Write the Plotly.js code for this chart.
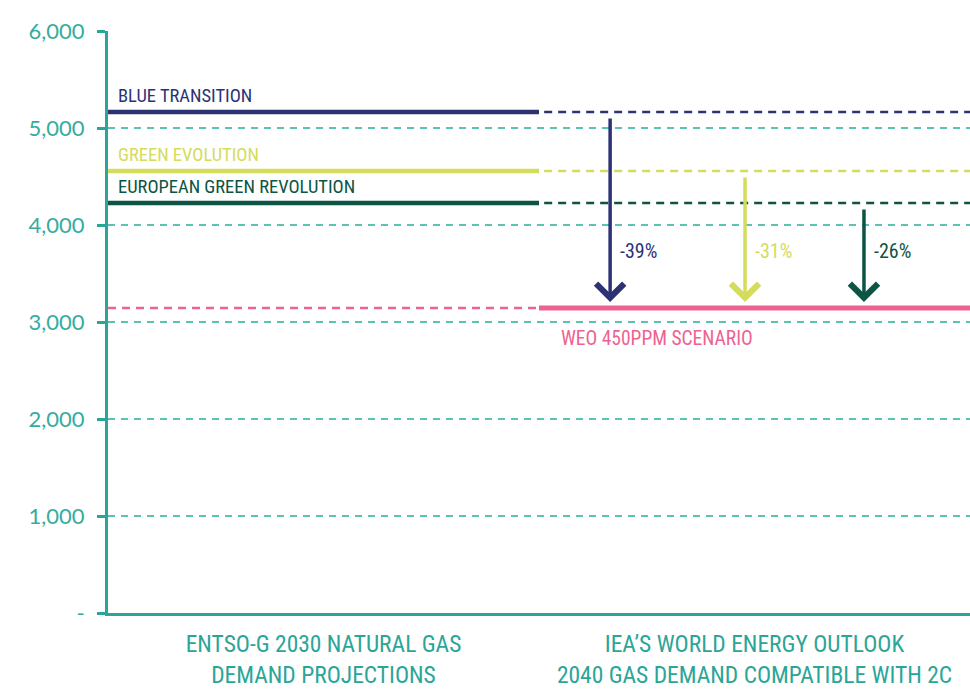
<!DOCTYPE html>
<html>
<head>
<meta charset="utf-8">
<script src="https://cdn.plot.ly/plotly-3.0.1.min.js"></script>
<style>html,body{margin:0;padding:0;background:#fff;}#chart{width:970px;height:691px;}</style>
</head>
<body>
<div id="chart"></div>
<script>
// ---- data ----
const scenarios = ["BLUE TRANSITION", "GREEN EVOLUTION", "EUROPEAN GREEN REVOLUTION"];
const demand2030 = [5165, 4557, 4227];
const weoLabel = "WEO 450PPM SCENARIO";
const weoDemand = 3144;
const reductionLabels = ["-39%", "-31%", "-26%"];
const categories = ["ENTSO-G 2030 NATURAL GAS<br>DEMAND PROJECTIONS", "IEA\u2019S WORLD ENERGY OUTLOOK<br>2040 GAS DEMAND COMPATIBLE WITH 2C"];
const yTickVals = [0, 1000, 2000, 3000, 4000, 5000, 6000];
const yTickText = ["-", "1,000", "2,000", "3,000", "4,000", "5,000", "6,000"];

// ---- styles / positions ----
const colors = ["#2c3375", "#d4dc5c", "#0c5443"];
const pink = "#ee6292";
const teal = "#2ba597";
const gridTeal = "#5cc2b4";
const arrowX = [1.165, 1.478, 1.754];
const pctLabelY = 3730;
const narrow = "'Liberation Sans Narrow', 'Roboto Condensed', 'DejaVu Sans Condensed', sans-serif";

const traces = [];
scenarios.forEach((s, i) => {
  traces.push({x: [0, 1], y: [demand2030[i], demand2030[i]], mode: "lines",
    line: {color: colors[i], width: 4.5}, hoverinfo: "skip", showlegend: false});
  traces.push({x: [1.012, 2], y: [demand2030[i], demand2030[i]], mode: "lines",
    line: {color: colors[i], width: 2.5, dash: "8px,6px"}, hoverinfo: "skip", showlegend: false});
});
traces.push({x: [0, 0.995], y: [weoDemand, weoDemand], mode: "lines",
  line: {color: pink, width: 2.5, dash: "8px,6px"}, hoverinfo: "skip", showlegend: false});
traces.push({x: [1, 2], y: [weoDemand, weoDemand], mode: "lines",
  line: {color: pink, width: 5}, hoverinfo: "skip", showlegend: false});

const annotations = [];
scenarios.forEach((s, i) => {
  annotations.push({x: 0, y: demand2030[i], xref: "x", yref: "y", text: s, showarrow: false,
    xanchor: "left", yanchor: "bottom", xshift: 8, yshift: 3,
    font: {family: narrow, size: 18.5, color: colors[i]}});
  annotations.push({x: arrowX[i], y: weoDemand, ax: arrowX[i], ay: demand2030[i],
    xref: "x", yref: "y", axref: "x", ayref: "y", text: "", showarrow: true,
    arrowhead: 4, arrowsize: 1.55, arrowwidth: 3.5, arrowcolor: colors[i],
    standoff: 6, startstandoff: 5});
  annotations.push({x: arrowX[i], y: pctLabelY, xref: "x", yref: "y", text: reductionLabels[i],
    showarrow: false, xanchor: "left", xshift: 8,
    font: {family: narrow, size: 20, color: colors[i]}});
});
annotations.push({x: 1.047, y: weoDemand, xref: "x", yref: "y", text: weoLabel, showarrow: false,
  xanchor: "left", yanchor: "top", yshift: -17,
  font: {family: narrow, size: 19.5, color: pink}});

const layout = {
  width: 970, height: 691,
  margin: {l: 108, r: 0, t: 31, b: 78},
  paper_bgcolor: "#fff", plot_bgcolor: "#fff",
  showlegend: false,
  xaxis: {range: [0, 2], showgrid: false, zeroline: false, showline: true,
    linecolor: teal, linewidth: 3, ticks: "", tickvals: [0.5, 1.5], ticktext: categories,
    tickfont: {family: narrow, size: 23.5, color: teal}, ticklabelstandoff: 8, fixedrange: true},
  yaxis: {range: [0, 6000], tickvals: yTickVals, ticktext: yTickText,
    showgrid: true, gridcolor: gridTeal, gridwidth: 1.2, griddash: "7px,6px",
    zeroline: false, showline: true, linecolor: teal, linewidth: 3,
    ticks: "outside", ticklen: 8, tickwidth: 3, tickcolor: teal,
    ticklabelstandoff: 8,
    tickfont: {family: "Lato, 'Open Sans', sans-serif", size: 22, color: "#35ac9e"}, fixedrange: true},
  annotations: annotations
};

Plotly.newPlot("chart", traces, layout, {displayModeBar: false, staticPlot: true});
</script>
</body>
</html>
